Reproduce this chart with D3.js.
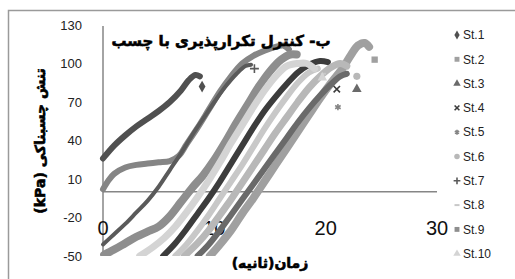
<!DOCTYPE html>
<html>
<head>
<meta charset="utf-8">
<script src="https://cdn.jsdelivr.net/npm/d3@7.9.0/dist/d3.min.js"></script>
<style>
  body { margin: 0; background: #fff; }
  svg { display: block; }
  .tick-y { font: 13px "Liberation Sans", Arial, sans-serif; fill: #222; }
  .tick-x { font: 20px "Liberation Sans", Arial, sans-serif; fill: #111; }
  .fa { font-family: "DejaVu Sans", sans-serif; font-weight: bold; fill: #000;
        stroke: #000; stroke-width: 0.6px; paint-order: stroke; }
  .legend text { font: 12px "Liberation Sans", Arial, sans-serif; fill: #222; }
</style>
</head>
<body>
<svg id="chart" width="515" height="279"></svg>
<script>
// === Data (time in s, stress in kPa), last point of each list is the detached end marker ===
const seriesNames = ['St.1', 'St.2', 'St.3', 'St.4', 'St.5', 'St.6', 'St.7', 'St.8', 'St.9', 'St.10'];
const st1 = [[0, 26], [1, 36], [2, 44], [3, 51], [4, 57], [5, 63], [6, 70], [7, 79], [7.7, 87], [8.3, 91], [8.7, 90], [8.9, 82]];
const st2 = [[9.6, -50], [10.5, -41], [11.5, -30], [12.5, -17], [13.5, -5], [14.5, 8], [15.5, 21], [16.5, 34], [17.5, 47], [18.5, 60], [19.5, 73], [20.5, 85], [21.5, 96], [22.3, 107], [22.9, 114], [23.5, 116], [23.9, 113], [24.4, 103]];
const st3 = [[8.5, -50], [9.5, -41], [10.5, -30], [11.5, -18], [12.5, -6], [13.5, 6], [14.5, 18], [15.5, 30], [16.5, 42], [17.5, 54], [18.5, 65], [19.5, 75], [20.5, 84], [21.3, 90], [21.9, 92], [22.8, 80]];
const st4 = [[5.4, -50], [6.5, -40], [7.5, -29], [8.5, -17], [9.5, -5], [10.5, 8], [11.5, 22], [12.5, 36], [13.5, 50], [14.5, 63], [15.5, 74], [16.5, 84], [17.5, 93], [18.5, 99], [19.5, 102], [20.2, 101], [21, 80]];
const st5 = [[0, 2], [0.5, 9], [1, 14], [2, 19], [3, 21], [4, 22], [5, 23], [6, 24], [6.8, 28], [7.5, 37], [8.5, 50], [9.5, 64], [10.5, 78], [11.5, 90], [12.5, 100], [13.5, 106], [14.5, 110], [15.5, 113], [16.2, 114], [16.7, 111], [21.1, 66]];
const st6 = [[7.3, -50], [8.5, -40], [9.5, -30], [10.5, -18], [11.5, -6], [12.5, 7], [13.5, 20], [14.5, 33], [15.5, 46], [16.5, 58], [17.5, 70], [18.5, 81], [19.5, 90], [20.5, 97], [21.3, 100], [21.9, 98], [22.8, 90]];
const st7 = [[0, -41], [1, -33], [2, -25], [3, -16], [4, -7], [5, 4], [6, 17], [7, 30], [8, 44], [9, 57], [10, 70], [11, 82], [12, 92], [12.8, 98], [13.3, 99], [13.6, 96]];
const st8 = [[6.5, -50], [7.5, -41], [8.5, -30], [9.5, -18], [10.5, -5], [11.5, 8], [12.5, 21], [13.5, 35], [14.5, 49], [15.5, 62], [16.5, 74], [17.5, 85], [18.5, 93], [19.3, 96], [19.8, 92]];
const st9 = [[0.1, -49], [1, -45], [2, -40], [3, -35], [4, -31], [5, -27], [6, -19], [7, -8], [8, 3], [9, 13], [10, 25], [11, 39], [12, 54], [13, 68], [14, 82], [15, 94], [16, 103], [16.8, 107], [17.4, 107], [17.8, 100]];
const st10 = [[3.3, -50], [4.5, -43], [5.5, -36], [6.5, -27], [7.5, -16], [8.5, -4], [9.5, 9], [10.5, 23], [11.5, 38], [12.5, 52], [13.5, 66], [14.5, 79], [15.5, 90], [16.5, 98], [17.5, 100], [18.3, 100], [19, 96], [19.7, 89]];
const seriesData = [st1, st2, st3, st4, st5, st6, st7, st8, st9, st10];
const xTicks = [0, 10, 20, 30];
const yTicks = [-50, -20, 10, 40, 70, 100, 130];

const colors = ['#505050', '#a0a0a0', '#6a6a6a', '#3c3c3c', '#858585', '#b8b8b8', '#5a5a5a', '#c8c8c8', '#8e8e8e', '#d4d4d4'];
const widths = [6, 8, 6, 6, 6, 7, 4, 6, 8, 7];
const symbols = [d3.symbolDiamond, d3.symbolSquare, d3.symbolTriangle, d3.symbolTimes, d3.symbolAsterisk,
  d3.symbolCircle, d3.symbolPlus, null, d3.symbolSquare, d3.symbolTriangle];
const strokeSymbols = [false, false, false, true, true, false, true, false, false, false];

const svg = d3.select('#chart');

// outer frame (only top/left edges visible in the crop)
svg.append('rect').attr('x', 8.5).attr('y', 10.5).attr('width', 520).attr('height', 280)
  .attr('fill', 'none').attr('stroke', '#9a9a9a').attr('stroke-width', 1.5);

const x = d3.scaleLinear().domain([0, 30]).range([103, 437]);
const y = d3.scaleLinear().domain([-50, 130]).range([256, 25]);

svg.append('clipPath').attr('id', 'plot-clip')
  .append('rect').attr('x', x(0) - 4).attr('y', y(130) - 4).attr('width', x(30) - x(0) + 8).attr('height', y(-50) - y(130) + 4);

// axes lines
svg.append('line').attr('x1', x(0)).attr('x2', x(0)).attr('y1', y(130) + 1).attr('y2', y(-50))
  .attr('stroke', '#868686').attr('stroke-width', 1.5);
svg.append('line').attr('x1', x(0)).attr('x2', x(30)).attr('y1', y(0)).attr('y2', y(0))
  .attr('stroke', '#868686').attr('stroke-width', 1.5);

// tick labels
svg.selectAll('.tick-y').data(yTicks).join('text')
  .attr('class', 'tick-y').attr('x', 82).attr('y', (d) => y(d)).attr('dy', '0.35em')
  .attr('text-anchor', 'end').text((d) => d);
svg.selectAll('.tick-x').data(xTicks).join('text')
  .attr('class', 'tick-x').attr('x', (d) => x(d)).attr('y', 235)
  .attr('text-anchor', 'middle').text((d) => d);

// series
const line = d3.line().x((d) => x(d[0])).y((d) => y(d[1])).curve(d3.curveCatmullRom);
const plot = svg.append('g').attr('clip-path', 'url(#plot-clip)');

function marker(sel, i, size) {
  if (symbols[i] === null) {
    sel.append('rect').attr('x', -2.5).attr('y', -1).attr('width', 5).attr('height', 2).attr('fill', colors[i]);
  } else if (strokeSymbols[i]) {
    sel.append('path').attr('d', d3.symbol(symbols[i], size * 0.7)())
      .attr('fill', 'none').attr('stroke', colors[i]).attr('stroke-width', 1.6);
  } else {
    sel.append('path').attr('d', d3.symbol(symbols[i], size)()).attr('fill', colors[i]);
  }
}

seriesData.forEach((pts, i) => {
  const body = pts.slice(0, -1);
  const end = pts[pts.length - 1];
  plot.append('path').attr('d', line(body))
    .attr('fill', 'none').attr('stroke', colors[i]).attr('stroke-width', widths[i])
    .attr('stroke-linejoin', 'round').attr('stroke-linecap', 'round');
  const g = plot.append('g').attr('transform', `translate(${x(end[0])},${y(end[1])})`);
  marker(g, i, 40);
});

// titles
svg.append('text').attr('class', 'fa').attr('x', 221).attr('y', 46)
  .attr('text-anchor', 'middle').attr('font-size', 15).text('ب- کنترل تکرارپذیری با چسب');
svg.append('text').attr('class', 'fa').attr('x', 270).attr('y', 268)
  .attr('text-anchor', 'middle').attr('font-size', 14).text('زمان(ثانیه)');
svg.append('text').attr('class', 'fa')
  .attr('transform', 'translate(45,141) rotate(-90)')
  .attr('text-anchor', 'middle').attr('font-size', 14).text('(kPa) تنش چسبناکی');

// legend
const legend = svg.append('g').attr('class', 'legend');
seriesNames.forEach((name, i) => {
  const row = legend.append('g').attr('transform', `translate(457,${35 + i * 24.3})`);
  marker(row, i, 24);
  row.append('text').attr('x', 6).attr('dy', '0.35em').text(name);
});
</script>
</body>
</html>
